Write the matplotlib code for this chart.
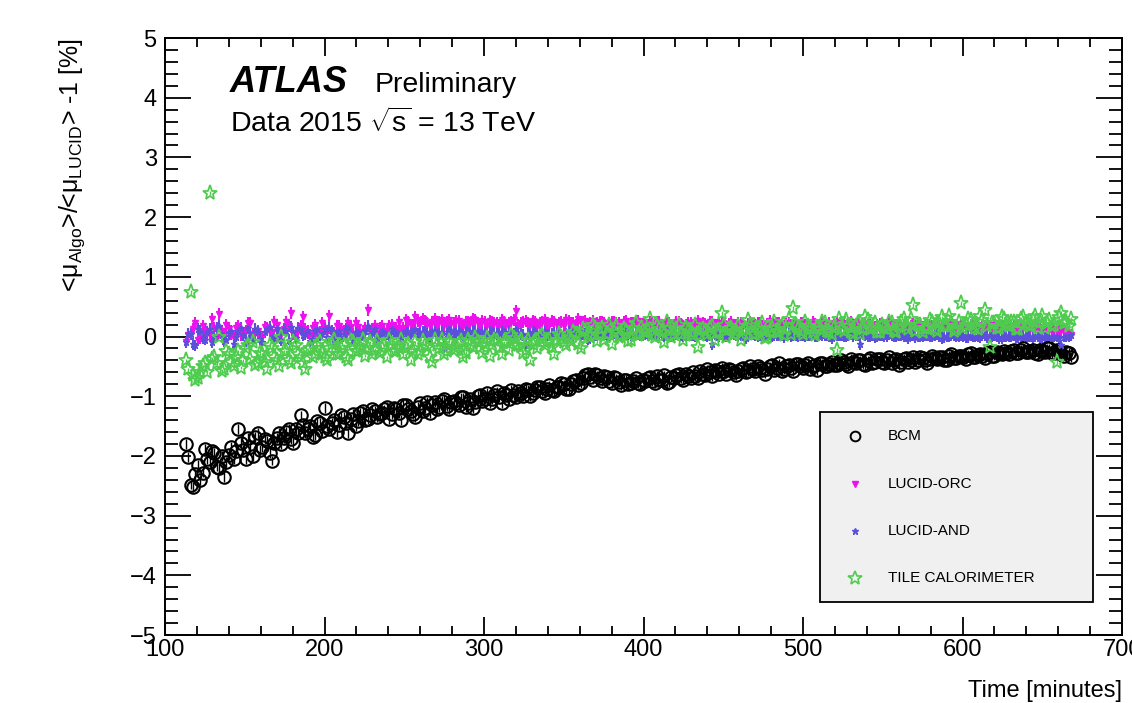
import matplotlib
matplotlib.use("Agg")
import matplotlib.pyplot as plt
from matplotlib.ticker import MultipleLocator
from matplotlib.patches import Rectangle
import numpy as np

plt.rcParams['font.family'] = ['Liberation Sans', 'DejaVu Sans']
plt.rcParams['mathtext.fontset'] = 'custom'
plt.rcParams['mathtext.rm'] = 'Liberation Sans'
plt.rcParams['mathtext.it'] = 'Liberation Sans:italic'
plt.rcParams['mathtext.bf'] = 'Liberation Sans:bold'

# two interleaved readings: every 3 min from t = 113 (a) and from t = 114.5 (b)
t_start_a = 113
t_start_b = 114.5
t_step = 3

bcm_a = [
    -1.80, -2.48, -2.30, -2.40, -1.88, -2.10, -1.95, -2.20, -2.35, -1.98,
    -2.05, -1.55, -1.90, -1.70, -2.00, -1.62, -1.85, -1.75, -2.08, -1.70,
    -1.80, -1.60, -1.72, -1.55, -1.32, -1.62, -1.50, -1.65, -1.45, -1.20,
    -1.55, -1.40, -1.48, -1.35, -1.62, -1.30, -1.42, -1.25, -1.38, -1.22,
    -1.35, -1.28, -1.18, -1.30, -1.22, -1.40,
    -1.15, -1.25, -1.35, -1.12, -1.20, -1.28, -1.10, -1.18, -1.05, -1.22,
    -1.08, -1.15, -1.02, -1.12, -1.20, -1.00, -1.08, -0.95, -1.05, -0.92,
    -1.12, -0.98, -0.90, -1.02, -0.95, -0.88, -1.00, -0.90, -0.85, -0.95,
    -0.82, -0.92, -0.85, -0.80, -0.88, -0.75, -0.82, -0.70, -0.62, -0.72,
    -0.65, -0.75, -0.68, -0.78, -0.70, -0.82, -0.72, -0.78, -0.70, -0.80,
    -0.74, -0.68, -0.78, -0.72, -0.65, -0.76, -0.70, -0.62, -0.72, -0.66,
    -0.60, -0.70, -0.62, -0.55, -0.66, -0.58, -0.52, -0.62, -0.56, -0.65,
    -0.55, -0.60, -0.50, -0.58, -0.52, -0.62, -0.50, -0.56, -0.45, -0.54,
    -0.48, -0.58, -0.46, -0.52, -0.44, -0.50, -0.56, -0.45, -0.50, -0.42,
    -0.48, -0.40, -0.46, -0.38, -0.45, -0.40, -0.48, -0.36, -0.42, -0.38,
    -0.45, -0.35, -0.40, -0.48, -0.38, -0.42, -0.34, -0.40, -0.36, -0.44,
    -0.32, -0.38, -0.35, -0.40, -0.30, -0.36, -0.32, -0.38, -0.28, -0.34,
    -0.30, -0.36, -0.26, -0.32, -0.28, -0.24, -0.30, -0.22, -0.28, -0.20,
    -0.26, -0.22, -0.30, -0.24, -0.20, -0.28, -0.22, -0.30, -0.26, -0.34,
]
bcm_b = [
    -2.02, -2.52, -2.15, -2.28, -2.05, -1.92, -2.18, -2.00, -2.10, -1.85,
    -1.92, -1.78, -2.05, -1.85, -1.68, -1.90, -1.72, -1.95, -1.78, -1.62,
    -1.70, -1.55, -1.78, -1.62, -1.48, -1.55, -1.68, -1.42, -1.58, -1.50,
    -1.45, -1.60, -1.32, -1.45, -1.38, -1.50, -1.28, -1.40, -1.32, -1.25,
    -1.30, -1.22, -1.38, -1.20, -1.28, -1.15,
    -1.22, -1.30, -1.18, -1.25, -1.10, -1.15, -1.22, -1.08, -1.16, -1.10,
    -1.12, -1.02, -1.18, -1.05, -1.10, -0.98, -1.05, -1.12, -0.98, -1.02,
    -0.95, -1.05, -0.98, -0.92, -1.00, -0.90, -0.95, -0.85, -0.92, -0.88,
    -0.90, -0.85, -0.78, -0.88, -0.80, -0.72, -0.78, -0.65, -0.68, -0.62,
    -0.70, -0.66, -0.74, -0.68, -0.76, -0.72, -0.80, -0.74, -0.78, -0.72,
    -0.70, -0.75, -0.66, -0.72, -0.78, -0.68, -0.64, -0.70, -0.62, -0.70,
    -0.66, -0.58, -0.64, -0.60, -0.56, -0.62, -0.58, -0.54, -0.60, -0.57,
    -0.52, -0.58, -0.55, -0.50, -0.56, -0.54, -0.48, -0.52, -0.58, -0.50,
    -0.52, -0.46, -0.50, -0.48, -0.54, -0.47, -0.44, -0.50, -0.46, -0.48,
    -0.44, -0.42, -0.50, -0.42, -0.40, -0.46, -0.40, -0.44, -0.38, -0.42,
    -0.40, -0.44, -0.38, -0.42, -0.36, -0.40, -0.42, -0.35, -0.40, -0.37,
    -0.36, -0.34, -0.40, -0.33, -0.36, -0.32, -0.35, -0.30, -0.34, -0.31,
    -0.33, -0.28, -0.32, -0.26, -0.30, -0.27, -0.24, -0.28, -0.23, -0.26,
    -0.24, -0.28, -0.22, -0.26, -0.20, -0.27, -0.24, -0.32, -0.28,
]

lucid_orc_a = [
    -0.10, 0.05, 0.22, -0.03, 0.10, 0.02, 0.15, 0.38, 0.04, 0.12,
    -0.03, 0.18, 0.06, 0.22, 0.02, 0.10, 0.00, 0.15, 0.08, 0.20,
    0.04, 0.25, 0.40, 0.06, 0.18, 0.12, 0.02, 0.20, 0.08, 0.15,
    0.35, 0.06, 0.18, 0.10, 0.22, 0.04, 0.16, 0.08, 0.44, 0.12,
    0.06, 0.18, 0.10, 0.20, 0.14, 0.10,
    0.28, 0.20, 0.32, 0.22, 0.26, 0.18, 0.30, 0.24, 0.20, 0.28,
    0.22, 0.26, 0.18, 0.24, 0.30, 0.22, 0.26, 0.20, 0.25, 0.22,
    0.28, 0.20, 0.24, 0.42, 0.22, 0.26, 0.20, 0.24, 0.22, 0.28,
    0.20, 0.25, 0.22, 0.18, 0.26, 0.22, 0.30, 0.24, 0.20, 0.26,
    0.22, 0.25, 0.18, 0.24, 0.22, 0.20, 0.26, 0.22, 0.24, 0.20,
    0.22, 0.24, 0.20, 0.25, 0.18, 0.22, 0.20, 0.24, 0.18, 0.22,
    0.20, 0.26, 0.22, 0.18, 0.24, 0.20, 0.22, 0.18, 0.25, 0.20,
    0.22, 0.16, 0.24, 0.20, 0.22, 0.18, 0.26, 0.20, 0.22, 0.17,
    0.23, 0.20, 0.18, 0.22, 0.20, 0.25, 0.18, 0.22, 0.20, 0.16,
    0.22, 0.20, 0.18, 0.24, 0.20, 0.18, 0.22, 0.19, 0.16, 0.21,
    0.18, 0.22, 0.16, 0.20, 0.18, 0.15, 0.21, 0.18, 0.16, 0.20,
    0.17, 0.22, 0.15, 0.18, 0.20, 0.16, 0.18, 0.14, 0.20, 0.17,
    0.15, 0.18, 0.16, 0.20, 0.14, 0.17, 0.15, 0.18, 0.13, 0.16,
    0.14, 0.12, 0.16, 0.10, 0.13, 0.10, 0.08, 0.11, 0.06, 0.03,
]
lucid_orc_b = [
    0.02, 0.12, -0.06, 0.18, 0.06, 0.30, 0.00, 0.10, 0.20, 0.04,
    0.15, 0.02, 0.10, 0.22, 0.06, -0.03, 0.16, 0.08, 0.24, 0.02,
    0.12, 0.18, 0.04, 0.10, 0.32, 0.06, 0.15, 0.00, 0.22, 0.10,
    0.04, 0.18, 0.12, 0.02, 0.16, 0.22, 0.08, 0.14, 0.10, 0.18,
    0.14, 0.10, 0.18, 0.12, 0.24, 0.15,
    0.24, 0.20, 0.26, 0.30, 0.22, 0.25, 0.20, 0.28, 0.24, 0.22,
    0.26, 0.20, 0.24, 0.22, 0.28, 0.20, 0.24, 0.26, 0.22, 0.20,
    0.25, 0.22, 0.28, 0.20, 0.24, 0.22, 0.26, 0.18, 0.24, 0.22,
    0.26, 0.20, 0.24, 0.28, 0.22, 0.20, 0.24, 0.26, 0.22, 0.20,
    0.24, 0.22, 0.20, 0.25, 0.22, 0.24, 0.20, 0.22, 0.26, 0.21,
    0.20, 0.22, 0.24, 0.19, 0.22, 0.20, 0.24, 0.21, 0.20, 0.23,
    0.22, 0.18, 0.21, 0.24, 0.20, 0.22, 0.19, 0.21, 0.20, 0.23,
    0.19, 0.21, 0.20, 0.22, 0.18, 0.21, 0.20, 0.23, 0.19, 0.21,
    0.20, 0.18, 0.22, 0.20, 0.19, 0.21, 0.20, 0.18, 0.22, 0.20,
    0.19, 0.21, 0.20, 0.18, 0.22, 0.20, 0.19, 0.17, 0.20, 0.19,
    0.20, 0.17, 0.19, 0.18, 0.20, 0.17, 0.18, 0.19, 0.16, 0.18,
    0.19, 0.16, 0.18, 0.17, 0.19, 0.16, 0.18, 0.16, 0.17, 0.18,
    0.16, 0.17, 0.15, 0.17, 0.16, 0.15, 0.17, 0.14, 0.16, 0.15,
    0.13, 0.15, 0.12, 0.13, 0.11, 0.12, 0.09, 0.08, 0.05,
]

lucid_and_a = [
    -0.10, 0.05, -0.15, 0.10, -0.05, 0.12, 0.00, 0.18, -0.08, 0.06,
    -0.12, 0.10, 0.02, 0.15, -0.05, 0.08, -0.10, 0.12, 0.00, 0.14,
    -0.06, 0.10, 0.16, -0.02, 0.12, 0.05, -0.08, 0.10, 0.02, 0.12,
    0.15, -0.04, 0.10, 0.04, 0.14, -0.05, 0.08, 0.02, 0.18, 0.06,
    -0.02, 0.10, 0.04, 0.12, 0.06, 0.00,
    0.10, 0.04, 0.12, 0.06, 0.08, -0.02, 0.10, 0.05, -0.18, 0.08,
    0.04, 0.09, 0.02, 0.06, 0.10, 0.04, 0.07, 0.02, 0.06, 0.04,
    0.08, 0.03, 0.06, 0.12, 0.04, -0.15, 0.02, 0.06, 0.04, 0.08,
    0.02, 0.06, 0.04, 0.00, 0.07, 0.03, 0.09, 0.05, -0.05, 0.06,
    0.03, 0.06, 0.01, 0.05, 0.03, 0.00, 0.06, 0.03, 0.05, 0.02,
    0.04, 0.06, 0.02, 0.05, 0.00, 0.04, 0.02, 0.06, 0.00, 0.03,
    0.02, 0.06, 0.03, 0.00, -0.12, 0.02, 0.04, 0.00, 0.05, 0.02,
    0.03, -0.02, 0.04, 0.02, 0.03, 0.00, 0.05, 0.02, 0.03, -0.01,
    0.04, 0.02, 0.00, 0.03, 0.02, 0.05, 0.00, 0.03, 0.02, -0.02,
    0.03, 0.02, 0.00, 0.04, 0.02, -0.12, 0.03, 0.01, -0.01, 0.02,
    0.01, 0.04, 0.00, 0.02, 0.01, -0.02, 0.03, 0.01, 0.00, 0.02,
    0.00, 0.04, -0.02, 0.01, 0.02, 0.00, 0.02, -0.01, 0.02, 0.00,
    -0.01, 0.02, 0.00, 0.02, -0.02, 0.01, 0.00, 0.02, -0.01, 0.01,
    0.00, -0.02, 0.01, -0.01, 0.00, -0.02, 0.00, -0.15, 0.00, 0.02,
]
lucid_and_b = [
    0.05, -0.12, 0.12, -0.02, 0.08, -0.10, 0.15, 0.02, -0.05, 0.10,
    0.00, 0.14, -0.08, 0.06, 0.12, -0.04, 0.08, 0.16, -0.02, 0.06,
    0.12, -0.05, 0.08, 0.14, 0.02, 0.10, -0.04, 0.12, 0.05, 0.00,
    0.10, 0.06, -0.02, 0.12, 0.04, 0.08, 0.00, 0.10, 0.05, 0.12,
    0.04, 0.08, 0.02, 0.10, 0.05, 0.08,
    0.06, 0.09, 0.04, 0.08, 0.05, 0.10, 0.03, 0.07, 0.05, 0.09,
    0.06, 0.04, 0.08, 0.05, 0.07, 0.03, 0.06, 0.08, 0.04, 0.06,
    0.05, 0.07, 0.04, 0.06, 0.02, 0.05, 0.07, 0.04, 0.06, 0.03,
    0.05, 0.07, 0.03, 0.05, 0.06, 0.02, 0.05, 0.04, 0.06, 0.03,
    0.04, 0.05, 0.03, 0.06, 0.02, 0.04, 0.05, 0.03, 0.04, 0.02,
    0.03, 0.05, 0.02, 0.04, 0.03, 0.01, 0.04, 0.02, 0.05, 0.03,
    0.01, 0.04, 0.02, 0.03, 0.05, 0.01, 0.03, 0.02, 0.04, 0.01,
    0.03, 0.02, 0.04, 0.01, 0.03, 0.02, 0.00, 0.03, 0.02, 0.04,
    0.01, 0.03, 0.02, 0.00, 0.03, 0.01, 0.04, 0.02, 0.01, 0.03,
    0.02, 0.00, 0.03, 0.01, 0.02, 0.04, 0.01, 0.02, 0.00, 0.02,
    0.01, 0.03, 0.00, 0.02, 0.01, 0.03, -0.01, 0.01, 0.02, 0.00,
    0.02, 0.01, -0.01, 0.01, 0.02, 0.00, 0.01, -0.01, 0.01, 0.00,
    0.02, -0.01, 0.01, 0.00, -0.02, 0.01, 0.00, -0.01, 0.01, -0.01,
    0.00, 0.01, -0.02, 0.00, -0.01, 0.01, -0.02, 0.00, 0.01,
]

tile_a = [
    -0.40, 0.75, -0.72, -0.60, -0.45, 2.40, -0.35, 0.00, -0.55, -0.30,
    -0.50, -0.25, -0.40, -0.15, -0.10, -0.45, -0.30, -0.55, -0.20, -0.40,
    0.00, -0.25, -0.45, -0.15, -0.35, -0.55, -0.20, -0.30, -0.10, -0.35,
    -0.20, -0.05, -0.30, -0.15, -0.40, -0.10, -0.25, -0.05, -0.20, -0.30,
    -0.08, -0.20, -0.35, -0.12, -0.25, -0.05,
    -0.20, -0.40, -0.10, -0.25, -0.15, -0.35, -0.05, -0.20, -0.30, -0.08,
    -0.22, -0.12, -0.35, -0.05, -0.18, -0.10, -0.28, -0.02, -0.15, -0.08,
    -0.30, -0.10, 0.02, -0.15, -0.05, -0.22, -0.40, -0.08, 0.00, -0.15,
    -0.05, -0.30, 0.05, -0.10, -0.02, 0.08, -0.12, 0.12, 0.02, 0.20,
    -0.08, 0.15, 0.05, -0.12, 0.18, 0.02, 0.10, -0.05, 0.22, 0.05,
    0.08, 0.30, 0.00, 0.12, -0.10, 0.15, 0.05, 0.20, -0.05, 0.10,
    0.02, -0.17, 0.12, 0.05, 0.18, 0.08, 0.39, 0.00, 0.15, 0.10,
    -0.05, 0.12, 0.20, 0.05, 0.15, -0.02, 0.10, 0.25, 0.08, 0.02,
    0.30, 0.48, 0.12, 0.05, 0.18, 0.08, 0.15, 0.25, 0.10, 0.05,
    -0.23, 0.12, 0.28, 0.08, 0.18, 0.05, 0.32, 0.12, 0.22, 0.08,
    0.15, 0.25, 0.10, 0.18, 0.30, 0.12, 0.53, 0.20, 0.08, 0.15,
    0.25, 0.10, 0.32, 0.18, 0.22, 0.12, 0.56, 0.20, 0.28, 0.15,
    0.35, 0.45, -0.17, 0.22, 0.15, 0.30, 0.18, 0.25, 0.12, 0.32,
    0.20, 0.28, 0.15, 0.35, 0.22, 0.18, -0.43, 0.39, 0.25, 0.30,
]
tile_b = [
    -0.55, -0.65, -0.70, -0.50, -0.60, -0.38, -0.45, -0.58, -0.25, -0.42,
    -0.35, -0.52, -0.20, -0.38, -0.48, -0.28, -0.42, -0.15, -0.35, -0.50,
    -0.25, -0.40, -0.10, -0.30, -0.45, -0.22, -0.35, -0.15, -0.28, -0.40,
    -0.12, -0.30, -0.20, -0.35, -0.08, -0.25, -0.18, -0.32, -0.10, -0.22,
    -0.28, -0.15, -0.05, -0.25, -0.18, -0.30,
    -0.12, -0.25, -0.30, -0.08, -0.18, -0.42, -0.15, -0.05, -0.25, -0.12,
    -0.20, -0.08, -0.28, -0.15, -0.02, -0.20, -0.12, -0.32, -0.05, -0.18,
    -0.10, -0.22, -0.02, -0.15, -0.28, -0.05, -0.12, -0.20, 0.02, -0.10,
    -0.18, -0.05, 0.00, -0.15, -0.08, 0.05, -0.20, 0.10, 0.00, 0.15,
    0.05, -0.05, 0.20, 0.08, 0.00, 0.12, -0.08, 0.15, 0.02, 0.10,
    0.10, 0.02, 0.18, 0.08, 0.25, 0.00, 0.12, 0.05, 0.15, 0.08,
    0.20, 0.02, 0.10, 0.15, -0.05, 0.08, 0.20, 0.12, 0.05, 0.18,
    0.10, 0.28, 0.05, 0.12, 0.22, 0.00, 0.15, 0.08, 0.18, 0.12,
    0.05, 0.20, 0.10, 0.25, 0.15, 0.02, 0.12, 0.22, 0.08, 0.15,
    0.30, 0.10, 0.18, 0.05, 0.22, 0.12, 0.28, 0.15, 0.08, 0.20,
    0.12, 0.22, 0.08, 0.25, 0.18, 0.30, 0.10, 0.20, 0.15, 0.28,
    0.12, 0.22, 0.18, 0.35, 0.10, 0.25, 0.15, 0.30, 0.20, 0.12,
    0.28, 0.18, 0.22, 0.15, 0.32, 0.20, 0.25, 0.12, 0.30, 0.22,
    0.18, 0.35, 0.25, 0.15, 0.28, 0.20, 0.32, 0.22, 0.18,
]

err_bcm = 0.08
err_lucid = 0.10
err_tile = 0.03


def join(a, b):
    ta = t_start_a + t_step * np.arange(len(a))
    tb = t_start_b + t_step * np.arange(len(b))
    return np.concatenate([ta, tb]), np.concatenate([a, b])


t_bcm, bcm = join(bcm_a, bcm_b)
t_orc, lucid_orc = join(lucid_orc_a, lucid_orc_b)
t_and, lucid_and = join(lucid_and_a, lucid_and_b)
t_tile, tile = join(tile_a, tile_b)

c_orc = '#ee11ee'
c_and = '#5a50dc'
c_tile = '#4fcc4f'

fig = plt.figure(figsize=(11.32, 7.03), dpi=100)
ax = fig.add_axes([0.1458, 0.0967, 0.8454, 0.8492])

ax.errorbar(t_bcm, bcm, yerr=err_bcm, fmt='o', ms=9, mfc='none', mec='black',
            mew=1.5, ecolor='black', elinewidth=1.0, capsize=0)
ax.errorbar(t_orc, lucid_orc, yerr=err_lucid, fmt='v', ms=5, color=c_orc,
            ecolor=c_orc, elinewidth=1.5, capsize=0)
ax.errorbar(t_and, lucid_and, yerr=err_lucid, fmt='*', ms=5, color=c_and,
            ecolor=c_and, elinewidth=1.5, capsize=0)
ax.errorbar(t_tile, tile, yerr=err_tile, fmt='*', ms=11, mfc='none', mec=c_tile,
            mew=1.3, ecolor=c_tile, elinewidth=1.0, capsize=0)

ax.set_xlim(100, 700)
ax.set_ylim(-5, 5)
ax.xaxis.set_major_locator(MultipleLocator(100))
ax.xaxis.set_minor_locator(MultipleLocator(20))
ax.yaxis.set_major_locator(MultipleLocator(1))
ax.yaxis.set_minor_locator(MultipleLocator(0.2))
ax.tick_params(which='both', direction='in', top=True, right=True, width=1.3,
               labelsize=17)
ax.tick_params(axis='y', which='major', length=19, pad=6)
ax.tick_params(axis='y', which='minor', length=9.5)
ax.tick_params(axis='x', which='major', length=13, pad=3)
ax.tick_params(axis='x', which='minor', length=6.5)
for s in ax.spines.values():
    s.set_linewidth(1.4)

ax.set_ylabel(r'<μ$_{\rm Algo}$>/<μ$_{\rm LUCID}$> -1 [%]', fontsize=18, loc='top')
ax.yaxis.set_label_coords(-0.082, 1.0)
ax.set_xlabel('Time [minutes]', fontsize=17, loc='right')
ax.xaxis.set_label_coords(1.0, -0.075)

fig.text(0.2032, 0.869, 'ATLAS', fontsize=26, fontweight='bold', style='italic',
         va='baseline')
fig.text(0.3313, 0.869, 'Preliminary', fontsize=20.5, va='baseline')
fig.text(0.2032, 0.8122, r'Data 2015 $\sqrt{\rm s}$ = 13 TeV', fontsize=20.5,
         va='baseline')

# legend box drawn ROOT style
ax.add_patch(Rectangle((0.684, 0.0553), 0.286, 0.318, transform=ax.transAxes,
                       facecolor='#f0f0f0', edgecolor='black', lw=1.3, zorder=5))
entries = [
    ('BCM', dict(marker='o', ms=7, mfc='none', mec='black', mew=1.4)),
    ('LUCID-ORC', dict(marker='v', ms=5, color=c_orc)),
    ('LUCID-AND', dict(marker='*', ms=5, color=c_and)),
    ('TILE CALORIMETER', dict(marker='*', ms=10, mfc='none', mec=c_tile, mew=1.2)),
]
rows = [0.333, 0.253, 0.174, 0.0955]
for (lab, style), yy in zip(entries, rows):
    ax.plot([0.721], [yy], transform=ax.transAxes, linestyle='none', zorder=6,
            **style)
    ax.text(0.755, yy, lab, transform=ax.transAxes, fontsize=11, va='center',
            zorder=6)

fig.savefig('out.png', dpi=100)
